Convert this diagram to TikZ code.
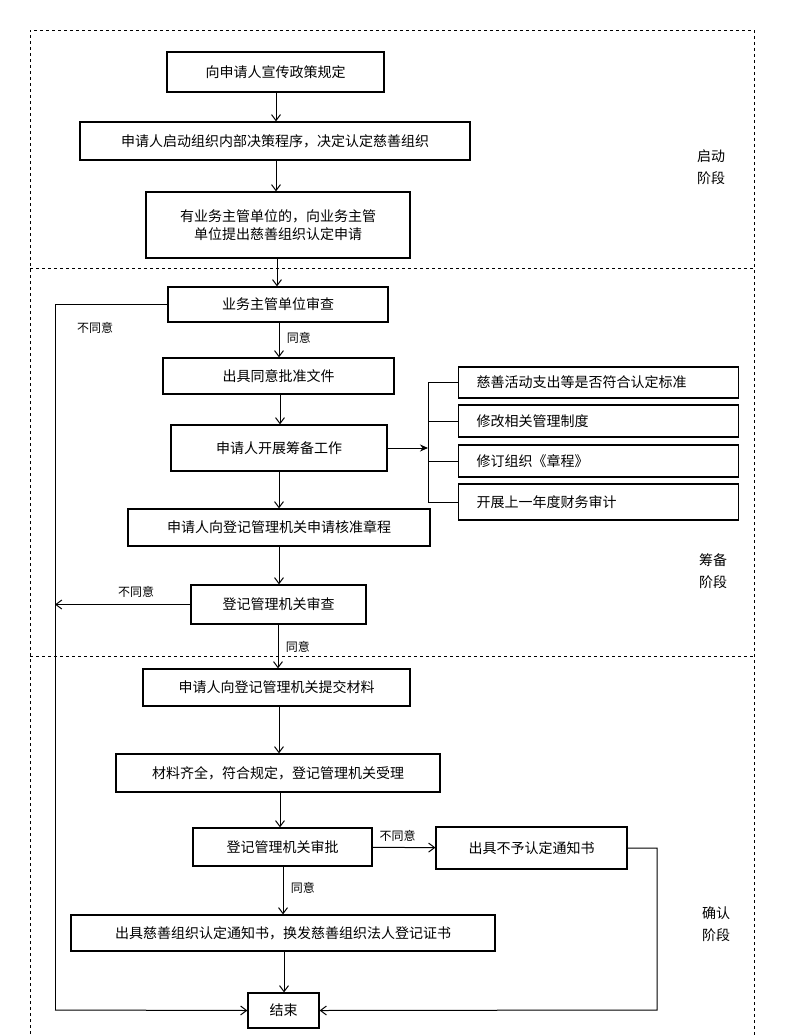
\documentclass[tikz,border=0pt]{standalone}
\usepackage{fontspec}
\setmainfont{Noto Sans CJK SC}
\usetikzlibrary{arrows.meta}
\begin{document}
\begin{tikzpicture}[x=1pt,y=-1pt,
  box/.style={draw,line width=1.2pt,inner sep=0pt,font=\fontsize{14}{18}\selectfont},
  lab/.style={font=\fontsize{12}{14}\selectfont},
  stage/.style={font=\fontsize{14}{22}\selectfont,align=center},
  arr/.style={-{Straight Barb[length=6pt,width=9pt]},line width=1pt},
  ln/.style={line width=1pt}]
\useasboundingbox[fill=white] (0,0) rectangle (784,1035);
\draw[dashed,line width=0.9pt] (30,1040) -- (30,30) -- (754,30) -- (754,1040);
\draw[dashed,line width=0.9pt] (30,268) -- (754,268);
\draw[dashed,line width=0.9pt] (30,656) -- (754,656);
\newcommand{\bx}[6]{\node[box,minimum width={#4-#2},minimum height={#5-#3}] (#1) at ({(#2+#4)/2},{(#3+#5)/2}) {#6};}
\newcommand{\va}[4][]{\draw[arr] (#2.south -| #4,0) -- node[#1]{} (#3.north -| #4,0);}
\bx{b1}{167}{52}{384}{92}{向申请人宣传政策规定}
\bx{b2}{80}{122}{470}{160}{申请人启动组织内部决策程序，决定认定慈善组织}
\node[box,minimum width=264,minimum height=66,align=center] (b3) at (278,225) {有业务主管单位的，向业务主管\\单位提出慈善组织认定申请};
\bx{b4}{168}{287}{388}{322}{业务主管单位审查}
\bx{b5}{163}{358}{394}{394}{出具同意批准文件}
\bx{b6}{171}{425}{387}{471}{申请人开展筹备工作}
\bx{b7}{128}{509}{430}{546}{申请人向登记管理机关申请核准章程}
\bx{b8}{191}{585}{366}{624}{登记管理机关审查}
\bx{b9}{143}{669}{410}{706}{申请人向登记管理机关提交材料}
\bx{b10}{116}{754}{440}{792}{材料齐全，符合规定，登记管理机关受理}
\bx{b11}{193}{828}{372}{866}{登记管理机关审批}
\bx{b12}{436}{827}{627}{869}{出具不予认定通知书}
\bx{b13}{71}{915}{495}{951}{出具慈善组织认定通知书，换发慈善组织法人登记证书}
\bx{b14}{248}{993}{319}{1028}{结束}
\node[box,minimum width=280,minimum height=31,anchor=west,text width=262,align=left] (s1) at (458,382.5) {\hspace*{9pt}慈善活动支出等是否符合认定标准};
\node[box,minimum width=280,minimum height=32,anchor=west,text width=262,align=left] (s2) at (458,421) {\hspace*{9pt}修改相关管理制度};
\node[box,minimum width=280,minimum height=32,anchor=west,text width=262,align=left] (s3) at (458,461) {\hspace*{9pt}修订组织《章程》};
\node[box,minimum width=280,minimum height=36,anchor=west,text width=262,align=left] (s4) at (458,502) {\hspace*{9pt}开展上一年度财务审计};
\coordinate (br) at (428,448);
\draw[ln] (s1.west) -- (428,382.5) -- (428,502) -- (s4.west);
\draw[ln] (s2.west) -- (428,421);
\draw[ln] (s3.west) -- (428,461);
\draw[-{Stealth[length=8pt,width=7pt]},line width=1pt] (b6.east) -- (br);
\va{b1}{b2}{276}
\va{b2}{b3}{276}
\va{b3}{b4}{277}
\draw[arr] (b4.south -| 279,0) -- node[lab,right=4pt,pos=0.45]{同意} (b5.north -| 279,0);
\va{b5}{b6}{280}
\va{b6}{b7}{279}
\va{b7}{b8}{279}
\draw[arr] (b8.south -| 278,0) -- node[lab,right=4pt,pos=0.5]{同意} (b9.north -| 278,0);
\va{b9}{b10}{279}
\va{b10}{b11}{280}
\draw[arr] (b11) -- node[lab,above=2pt,pos=0.4]{不同意} (b12);
\draw[arr] (b11.south -| 283,0) -- node[lab,right=4pt,pos=0.45]{同意} (b13.north -| 283,0);
\va{b13}{b14}{284}
\coordinate (L) at (55,604.5);
\draw[ln] (b4.west) -- (55,304.5) -- (55,1010) coordinate (LB);
\node[lab] (n1) at (95,328) {不同意};
\draw[arr] (b8.west) -- node[lab,above=3pt,pos=0.4]{不同意} (L);
\draw[arr] (LB) -- (b14.west);
\draw[arr] (b12.east) -- (657,848) -- (657,1010) -- (b14.east);
\node[stage] (t1) at (711,167) {启动\\阶段};
\node[stage] (t2) at (713,571) {筹备\\阶段};
\node[stage] (t3) at (716,924) {确认\\阶段};
\end{tikzpicture}
\end{document}
